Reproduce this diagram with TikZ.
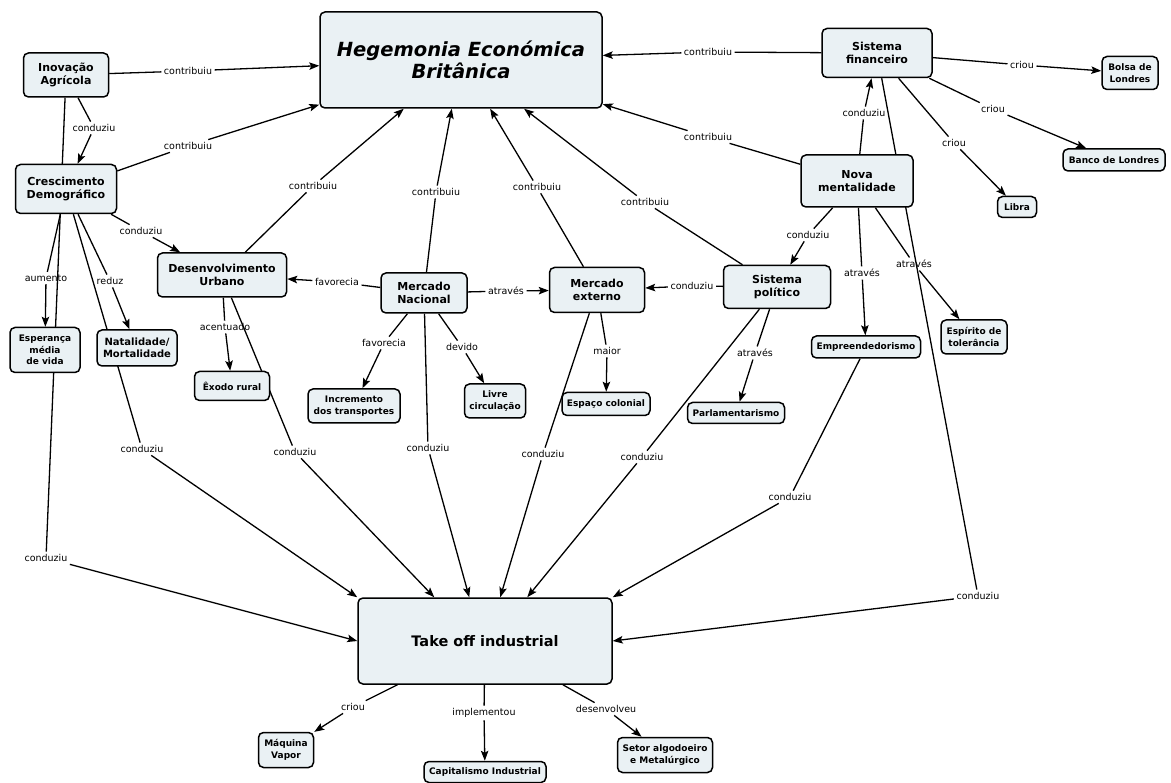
\documentclass[tikz,border=0pt]{standalone}
\usepackage{fontspec}
\setmainfont{DejaVu Sans}
\usetikzlibrary{arrows.meta,backgrounds,calc}
\definecolor{boxfill}{HTML}{EAF1F4}
\tikzset{
  concept/.style={draw=black, line width=1.5pt, rounded corners=5pt, fill=boxfill,
    align=center, inner sep=2pt, font=\bfseries\fontsize{11}{13.5}\selectfont},
  leaf/.style={concept, font=\bfseries\fontsize{9}{11.5}\selectfont},
  lbl/.style={font=\fontsize{9.5}{11}\selectfont, inner sep=2.5pt},
  link/.style={line width=1.3pt},
  arr/.style={link, -{Stealth[length=10pt,width=7.5pt,inset=2pt]}},
}
% a link that passes through its label: source -- label -> target
\newcommand\linkvia[3]{\draw[link] (#1) -- (#2); \draw[arr] (#2) -- (#3);}

\begin{document}
\begin{tikzpicture}[x=1pt,y=-1pt]
\useasboundingbox (0,0) rectangle (1171,783);

% ---- concepts ----
\node[concept, minimum width=282pt, minimum height=96pt,
      font=\bfseries\itshape\fontsize{19.5}{22}\selectfont] (heg) at (461,60) {Hegemonia Económica\\Britânica};
\node[concept, minimum width=85pt, minimum height=44pt] (inov) at (66,75) {Inovação\\Agrícola};
\node[concept, minimum width=101pt, minimum height=49pt] (cresc) at (66,189) {Crescimento\\Demográfico};
\node[concept, minimum width=129pt, minimum height=44pt] (desurb) at (222,275) {Desenvolvimento\\Urbano};
\node[concept, minimum width=86pt, minimum height=40pt] (mnac) at (424,293) {Mercado\\Nacional};
\node[concept, minimum width=95pt, minimum height=45pt] (mext) at (597,290) {Mercado\\externo};
\node[concept, minimum width=107pt, minimum height=43pt] (spol) at (777,287) {Sistema\\político};
\node[concept, minimum width=110pt, minimum height=49pt] (sfin) at (877,53) {Sistema\\financeiro};
\node[concept, minimum width=112pt, minimum height=52pt] (nova) at (857,181) {Nova\\mentalidade};
\node[concept, minimum width=80pt, minimum height=36pt,
      font=\bfseries\fontsize{10}{12.5}\selectfont] (nat) at (137,348) {Natalidade/\\Mortalidade};
\node[concept, minimum width=254pt, minimum height=86pt,
      font=\bfseries\fontsize{14.5}{17}\selectfont] (take) at (485,641) {Take off industrial};

\node[leaf, minimum width=56pt, minimum height=33pt] (bolsa) at (1130,73) {Bolsa de\\Londres};
\node[leaf, minimum width=102pt, minimum height=22pt] (banco) at (1114,160) {Banco de Londres};
\node[leaf, minimum width=39pt, minimum height=21pt] (libra) at (1017,207) {Libra};
\node[leaf, minimum width=70pt, minimum height=45pt] (esp) at (45,350) {Esperança\\média\\de vida};
\node[leaf, minimum width=75pt, minimum height=29pt] (exodo) at (232,386) {Êxodo rural};
\node[leaf, minimum width=92pt, minimum height=34pt] (incr) at (354,406) {Incremento\\dos transportes};
\node[leaf, minimum width=61pt, minimum height=34pt] (livre) at (495,401) {Livre\\circulação};
\node[leaf, minimum width=88pt, minimum height=23pt] (espc) at (606,404) {Espaço colonial};
\node[leaf, minimum width=97pt, minimum height=21pt] (parl) at (736,413) {Parlamentarismo};
\node[leaf, minimum width=109pt, minimum height=22pt] (empr) at (866,347) {Empreendedorismo};
\node[leaf, minimum width=66pt, minimum height=34pt] (tol) at (974,337) {Espírito de\\tolerância};
\node[leaf, minimum width=55pt, minimum height=35pt] (maq) at (286,750) {Máquina\\Vapor};
\node[leaf, minimum width=122pt, minimum height=21pt] (cap) at (485,772) {Capitalismo Industrial};
\node[leaf, minimum width=95pt, minimum height=35pt] (setor) at (665,755) {Setor algodoeiro\\e Metalúrgico};

% ---- link labels ----
\node[lbl] (l1) at (188,71) {contribuiu};
\node[lbl] (l2) at (94,128) {conduziu};
\node[lbl] (l3) at (188,146) {contribuiu};
\node[lbl] (l4) at (141,231) {conduziu};
\node[lbl] (l5) at (46,278) {aumento};
\node[lbl] (l6) at (110,281) {reduz};
\node[lbl] (l7) at (142,449) {conduziu};
\node[lbl] (l8) at (46,558) {conduziu};
\node[lbl] (l9) at (313,186) {contribuiu};
\node[lbl] (l10) at (225,327) {acentuado};
\node[lbl] (l11) at (295,452) {conduziu};
\node[lbl] (l12) at (337,282) {favorecia};
\node[lbl] (l13) at (436,192) {contribuiu};
\node[lbl] (l14) at (506,291) {através};
\node[lbl] (l15) at (384,343) {favorecia};
\node[lbl] (l16) at (462,347) {devido};
\node[lbl] (l17) at (428,448) {conduziu};
\node[lbl] (l18) at (537,187) {contribuiu};
\node[lbl] (l19) at (607,351) {maior};
\node[lbl] (l20) at (543,454) {conduziu};
\node[lbl] (l21) at (692,286) {conduziu};
\node[lbl] (l22) at (645,202) {contribuiu};
\node[lbl] (l23) at (755,353) {através};
\node[lbl] (l24) at (642,457) {conduziu};
\node[lbl] (l25) at (708,137) {contribuiu};
\node[lbl] (l26) at (864,113) {conduziu};
\node[lbl] (l27) at (808,235) {conduziu};
\node[lbl] (l28) at (862,273) {através};
\node[lbl] (l29) at (914,264) {através};
\node[lbl] (l30) at (790,497) {conduziu};
\node[lbl] (l31) at (708,52) {contribuiu};
\node[lbl] (l32) at (1022,65) {criou};
\node[lbl] (l33) at (993,109) {criou};
\node[lbl] (l34) at (954,143) {criou};
\node[lbl] (l35) at (978,596) {conduziu};
\node[lbl] (l36) at (353,707) {criou};
\node[lbl] (l37) at (484,713) {implementou};
\node[lbl] (l38) at (606,709) {desenvolveu};

% points where links reach the take-off box
\coordinate (tkDu) at ($(take.north west)+(77,0)$);
\coordinate (tkMn) at ($(take.north west)+(112,0)$);
\coordinate (tkMe) at ($(take.north west)+(143,0)$);
\coordinate (tkSp) at ($(take.north west)+(170,0)$);

% ---- connectors (behind the boxes) ----
\begin{pgfonlayer}{background}
\linkvia{inov}{l1}{heg}
\linkvia{inov}{l2}{cresc}
\linkvia{cresc}{l3}{heg}
\linkvia{cresc}{l4}{desurb}
\linkvia{cresc}{l5}{esp}
\linkvia{cresc}{l6}{nat}
\linkvia{cresc}{l7}{take.north west}
\linkvia{inov}{l8}{take.west}
\linkvia{desurb}{l9}{heg}
\linkvia{desurb}{l10}{exodo}
\linkvia{desurb}{l11}{tkDu}
\linkvia{mnac}{l12}{desurb}
\linkvia{mnac}{l13}{heg}
\linkvia{mnac}{l14}{mext}
\linkvia{mnac}{l15}{incr}
\linkvia{mnac}{l16}{livre}
\linkvia{mnac}{l17}{tkMn}
\linkvia{mext}{l18}{heg}
\linkvia{mext}{l19}{espc}
\linkvia{mext}{l20}{tkMe}
\linkvia{spol}{l21}{mext}
\linkvia{spol}{l22}{heg}
\linkvia{spol}{l23}{parl}
\linkvia{spol}{l24}{tkSp}
\linkvia{nova}{l25}{heg}
\linkvia{nova}{l26}{sfin}
\linkvia{nova}{l27}{spol}
\linkvia{nova}{l28}{empr}
\linkvia{nova}{l29}{tol}
\linkvia{empr}{l30}{take.north east}
\linkvia{sfin}{l31}{heg}
\linkvia{sfin}{l32}{bolsa}
\linkvia{sfin}{l33}{banco}
\linkvia{sfin}{l34}{libra}
\linkvia{sfin}{l35}{take.east}
\linkvia{take}{l36}{maq}
\linkvia{take}{l37}{cap}
\linkvia{take}{l38}{setor}
\end{pgfonlayer}
\end{tikzpicture}
\end{document}
